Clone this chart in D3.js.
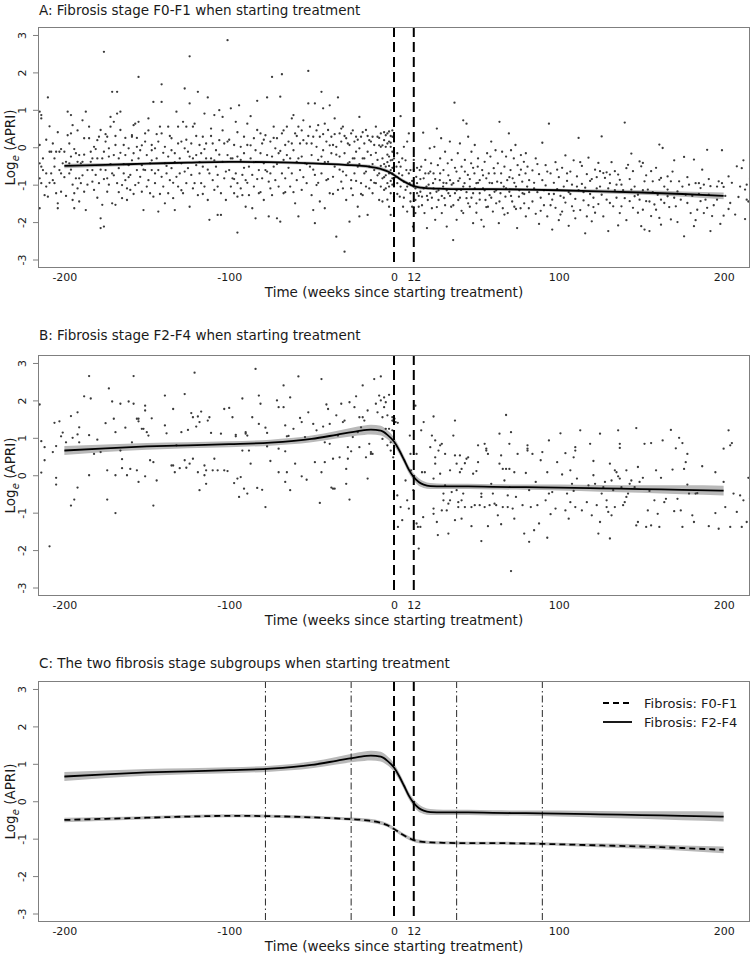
<!DOCTYPE html>
<html><head><meta charset="utf-8">
<script src="https://cdn.jsdelivr.net/npm/d3@7"></script>
<style>html,body{margin:0;padding:0;background:#fff;} svg{display:block;font-family:"DejaVu Sans",Verdana,sans-serif;}</style>
</head><body><div id="chart"></div>
<script>
// ---------------- DATA ----------------
const xTicks = [-200, -100, 0, 12, 100, 200];
const yTicks = [-3, -2, -1, 0, 1, 2, 3];
const markerWeeks = [0, 12];
const knotWeeks = [-78, -26, 38, 90];
const panelTitles = [
  "A: Fibrosis stage F0-F1 when starting treatment",
  "B: Fibrosis stage F2-F4 when starting treatment",
  "C: The two fibrosis stage subgroups when starting treatment"
];
const xLabel = "Time (weeks since starting treatment)";
const legendLabels = ["Fibrosis: F0-F1", "Fibrosis: F2-F4"];

// fitted curve F0-F1
const fitWeeksF01 = [-200,-175,-150,-125,-100,-75,-50,-30,-15,-8,-3,0,4,8,12,16,22,30,45,60,80,100,125,150,175,200];
const fitF01  = [-0.50,-0.47,-0.44,-0.41,-0.39,-0.40,-0.43,-0.47,-0.52,-0.58,-0.66,-0.74,-0.86,-0.96,-1.04,-1.08,-1.10,-1.11,-1.12,-1.12,-1.13,-1.15,-1.18,-1.21,-1.25,-1.30];
const lowF01  = [-0.56,-0.52,-0.48,-0.45,-0.43,-0.44,-0.47,-0.51,-0.57,-0.63,-0.71,-0.79,-0.91,-1.01,-1.09,-1.13,-1.14,-1.15,-1.16,-1.16,-1.17,-1.19,-1.23,-1.27,-1.32,-1.39];
const highF01 = [-0.44,-0.42,-0.40,-0.37,-0.35,-0.36,-0.39,-0.43,-0.47,-0.53,-0.61,-0.69,-0.81,-0.91,-0.99,-1.03,-1.06,-1.07,-1.08,-1.08,-1.09,-1.11,-1.13,-1.15,-1.18,-1.21];

// fitted curve F2-F4
const fitWeeksF24 = [-200,-175,-150,-125,-100,-75,-50,-35,-22,-14,-8,-4,0,3,6,9,12,15,18,22,30,45,60,80,100,125,150,175,200];
const fitF24  = [0.66,0.72,0.77,0.80,0.83,0.87,0.97,1.08,1.18,1.22,1.19,1.08,0.90,0.68,0.42,0.15,-0.05,-0.18,-0.25,-0.29,-0.30,-0.30,-0.31,-0.32,-0.33,-0.35,-0.37,-0.39,-0.41];
const lowF24  = [0.54,0.62,0.68,0.72,0.75,0.79,0.88,0.98,1.06,1.09,1.06,0.96,0.79,0.58,0.32,0.05,-0.15,-0.28,-0.34,-0.37,-0.37,-0.37,-0.38,-0.39,-0.41,-0.44,-0.47,-0.51,-0.54];
const highF24 = [0.78,0.82,0.86,0.88,0.91,0.95,1.06,1.18,1.30,1.35,1.32,1.20,1.01,0.78,0.52,0.25,0.05,-0.08,-0.16,-0.21,-0.23,-0.23,-0.24,-0.25,-0.25,-0.26,-0.27,-0.27,-0.28];

// observations, [week, log APRI]
const pointsF01 = [
[-215,0.95],[-214,0.86],[-214,0.77],[-215,0.06],[-215,-0.43],[-214,-0.52],[-215,-0.83],[-215,-1.63],[-214,-0.96],[-213,-0.61],[-212,-1.28],[-211,-1.05],[-211,-0.70],[-210,1.33],[-210,-1.32],[-209,-0.12],[-209,0.56],[-208,-0.12],[-208,-0.70],[-207,-0.88],[-207,0.10],[-206,-0.96],[-206,-0.52],[-205,-0.12],[-205,-1.23],[-204,-1.50],[-204,-1.63],[-203,-0.61],[-203,-0.12],[-202,-1.19],[-202,-0.70],[-201,-0.43],
[-200,-0.12],[-199,-0.39],[-198,0.95],[-198,0.32],[-197,-0.70],[-197,-0.43],[-196,0.37],[-196,0.86],[-195,0.59],[-196,-0.25],[-195,-1.00],[-195,-1.41],[-194,-1.63],[-194,-1.23],[-193,-0.16],[-193,-0.83],[-192,-0.39],[-192,-1.10],[-191,-0.83],[-191,-0.21],[-190,-0.96],[-190,-0.43],[-189,0.72],[-189,-0.39],[-188,0.24],[-188,-1.19],[-187,0.95],[-187,-1.68],[-186,-0.61],[-185,0.24],
[-184,-0.12],[-184,-0.39],[-183,-0.92],[-183,-0.61],[-182,0.01],[-182,-1.14],[-181,-0.74],[-180,0.19],[-180,-0.30],[-179,-0.96],[-179,0.28],[-178,0.46],[-178,-1.90],[-178,-2.16],[-177,-1.54],[-177,-0.30],[-176,-2.12],[-176,-0.12],[-176,2.55],[-175,0.15],[-175,-0.61],[-174,0.28],[-174,-1.19],[-174,-0.83],[-173,-0.25],[-173,-0.03],[-172,0.81],[-172,0.55],[-171,-0.70],[-171,1.48],[-171,-1.50],[-170,-0.21],
[-170,0.68],[-169,0.06],[-169,-1.54],[-168,0.90],[-168,1.48],[-168,-0.96],[-167,-0.30],[-167,-0.56],[-166,0.46],[-166,0.95],[-165,-1.01],[-165,-1.36],[-164,-0.70],[-164,0.06],[-163,-0.21],[-163,-0.88],[-162,-1.10],[-162,-1.41],[-161,-0.48],[-161,-0.03],[-160,-0.74],[-160,-1.14],[-159,0.28],[-159,0.32],[-158,0.59],[-158,-0.16],[-157,0.63],[-157,-1.01],[-156,-0.61],[-156,0.01],[-155,1.88],[-155,0.68],
[-155,-0.30],[-154,-0.79],[-154,-0.08],[-153,-1.19],[-153,-0.48],[-152,-1.68],[-151,0.15],[-151,-0.61],[-151,0.37],[-150,-0.21],[-149,0.77],[-149,-0.88],[-148,-0.43],[-148,-1.23],[-147,0.06],[-147,-0.61],[-147,-0.08],[-146,-1.32],[-146,1.21],[-145,-0.96],[-145,-0.03],[-144,-0.30],[-143,0.15],[-143,-0.61],[-143,-1.72],[-142,0.55],[-141,-0.79],[-141,1.68],[-141,1.21],[-141,0.37],[-140,-1.05],
[-139,-0.43],[-139,0.01],[-139,-1.50],[-138,-0.70],[-137,-0.25],[-137,-1.23],[-137,0.55],[-136,-0.88],[-135,-0.08],[-135,-0.56],[-135,0.24],[-134,-1.36],[-133,-1.68],[-133,-0.16],[-132,-0.79],[-132,0.95],[-131,0.55],[-131,-1.05],[-130,-0.30],[-130,-0.70],[-129,0.15],[-129,-0.43],[-128,0.68],[-128,-1.23],[-127,1.57],[-127,-0.03],[-126,-0.96],[-126,0.55],[-125,-0.56],[-125,-0.12],
[-124,2.43],[-124,1.17],[-124,-1.59],[-123,-0.74],[-123,0.10],[-122,-0.30],[-122,0.55],[-121,-0.96],[-121,0.63],[-120,-0.48],[-120,-0.21],[-119,1.48],[-119,-1.28],[-118,-0.70],[-118,0.06],[-117,-0.96],[-117,-0.16],[-116,0.28],[-116,-0.52],[-115,0.90],[-115,-1.05],[-114,-0.30],[-114,0.10],[-113,1.33],[-113,-1.41],[-112,-1.94],[-112,-0.70],[-111,0.50],[-111,-0.30],[-110,-0.88],[-110,0.10],
[-109,-1.14],[-109,0.86],[-108,-0.52],[-108,-0.08],[-107,-1.81],[-107,-0.74],[-106,0.19],[-106,0.99],[-105,-1.23],[-105,-1.81],[-104,-0.39],[-104,0.81],[-103,0.10],[-103,-0.83],[-102,-1.41],[-101,-0.21],[-101,0.15],[-101,2.86],[-100,-0.61],[-99,-1.05],[-99,1.04],[-98,-0.30],[-98,-0.83],[-97,-1.23],[-97,0.06],[-96,-0.70],[-96,0.68],[-95,-0.25],[-95,-0.96],[-95,-2.28],[-95,-1.32],
[-94,1.12],[-93,0.01],[-93,-0.34],[-92,-0.74],[-92,-1.28],[-91,0.28],[-91,-0.16],[-90,-0.88],[-90,-1.59],[-89,0.63],[-89,0.06],[-88,-0.52],[-88,-1.28],[-87,0.83],[-87,-0.30],[-86,-0.74],[-86,-1.63],[-85,0.24],[-85,-1.05],[-84,-0.08],[-84,-1.90],[-83,0.46],[-83,1.24],[-82,-0.61],[-82,-1.23],[-81,-0.16],[-81,0.37],[-80,-0.83],[-80,0.10],[-79,-0.43],
[-79,-1.41],[-78,0.32],[-78,-0.61],[-77,-0.21],[-77,1.33],[-76,-1.85],[-76,-0.92],[-75,0.15],[-75,-0.70],[-74,1.88],[-74,-0.25],[-74,-1.28],[-73,0.55],[-73,-0.52],[-72,-0.03],[-72,-0.88],[-71,-1.90],[-71,0.24],[-70,-1.05],[-70,-0.16],[-69,1.35],[-69,-1.99],[-68,-0.70],[-68,1.95],[-68,0.37],[-67,-0.34],[-67,-1.23],[-66,0.06],[-66,-0.83],[-65,0.55],[-65,-0.21],
[-64,0.15],[-63,-0.30],[-63,-1.05],[-62,0.77],[-62,-0.70],[-61,0.86],[-61,-0.08],[-60,-1.50],[-60,0.37],[-59,-0.39],[-59,-0.88],[-58,0.55],[-58,-1.85],[-57,0.10],[-57,-0.61],[-56,-0.25],[-56,-1.14],[-55,0.19],[-55,0.72],[-54,-0.43],
[-53,0.10],[-53,-0.96],[-52,2.04],[-52,1.17],[-51,0.55],[-51,-0.52],[-50,-0.21],[-50,-1.28],[-49,0.28],[-49,-1.68],[-48,-2.03],[-48,1.17],[-48,-0.74],[-47,0.01],[-47,-1.01],[-46,0.59],[-46,-0.34],[-45,-1.45],[-45,0.28],[-44,1.48],[-44,-0.70],[-43,1.04],[-43,-0.08],[-42,-1.63],[-42,0.63],[-41,-0.88],[-41,0.15],[-40,-0.39],[-40,0.46],[-39,1.12],[-39,-1.23],
[-38,-0.16],[-38,0.28],[-37,-0.79],[-37,0.06],[-36,0.77],[-36,-0.52],[-35,-2.39],[-35,0.01],[-34,-1.14],[-34,1.33],[-33,-0.25],[-33,0.37],[-32,-0.92],[-32,0.15],[-31,-0.65],[-31,0.55],[-30,-2.79],[-30,-0.16],[-29,-1.41],[-29,0.24],[-28,-0.43],[-27,-1.99],[-27,0.06],[-26,-0.88],[-26,0.37],[-25,-0.30],[-25,-1.28],[-24,0.15],[-24,-0.70],[-23,-0.12],
[-23,0.28],[-22,-1.59],[-22,-0.52],[-21,0.81],[-21,-1.85],[-21,-0.03],[-20,-0.96],[-20,0.28],[-19,-0.30],[-19,-1.28],[-18,0.10],[-18,-0.70],[-17,0.46],[-17,-1.05],[-16,-0.12],[-16,-1.81],[-15,-0.52],[-15,0.19],[-14,-0.88],[-14,-0.21],[-13,0.28],[-13,-1.23],[-12,-0.61],[-12,0.06],[-11,0.55],[-11,-0.96],[-10,-0.34],[-10,0.28],[-9,-1.41],[-9,-0.70],[-8,0.01],
[-8,0.37],[-7,-0.83],[-7,-0.30],[-6,0.19],[-6,-1.14],[-5,0.32],[-5,-0.52],[-5,0.01],[-4,-0.96],[-4,0.37],[-3,-0.25],[-3,-1.59],[-3,0.15],[-2,-0.61],[-2,-1.23],[-2,0.01],[-2,-1.81],[-1,-0.34],[-1,0.28],[-1,-0.83],[-1,-0.12],[0,0.15],[0,-0.52],[0,-0.16],[0,-1.32],
[-4,-0.40],[-3,-0.70],[-2,0.30],[-1,-0.55],[-6,-0.45],[-7,0.05],[-9,0.25],[-3,0.42],[-1,-1.00],[-2,-0.90],[-5,-0.75],[-4,-1.40],
[1.5,-0.52],[2,-0.96],[2,-0.16],[3,-0.70],[3.5,-1.32],[4,0.83],[4,-0.52],[5,-0.30],[5.5,-1.59],[6,-0.92],[6,0.01],[7,-1.14],[7.5,-0.61],[8,-1.72],[8,0.15],[9,0.37],[9.5,-0.96],[10,-1.23],[10,-0.61],[11,-1.59],[11.5,-2.12],[12,-0.34],[12,-1.05],[13,-1.41],[13,-1.76],[13.5,-0.79],[14,-1.23],
[14,-0.96],[15,-1.59],[15.6,-0.61],[16,-1.19],[16.5,-0.52],[17,-1.32],[17.7,0.39],[18,-0.83],[18.5,-1.76],[19,-0.34],[19.7,-1.05],[20,-2.16],[20.5,-1.41],[21,-0.70],[21.7,-0.03],[22,-1.23],[22.5,-0.43],[23,-1.63],[23.7,-0.96],[24,-0.70],[24.5,0.01],[25,-1.94],[25.8,-1.19],[26,0.50],[26.6,-0.48],[27,-1.41],[27.8,-0.88],[28,-0.30],[28.6,0.24],[29,-1.76],[29.8,-1.05],[30,-0.61],[30.6,-1.36],[31,-0.12],[31.8,-0.96],[32,-2.12],
[32.6,-0.43],[33,-1.23],[33.9,0.15],[34,-0.88],[34.7,-1.59],[35,-0.34],[35.9,-2.48],[36,-0.96],[36.7,1.19],[37,-1.23],[37.9,-0.65],[38,-1.94],[38.7,-0.16],[39,-1.41],[39.9,-0.83],[40,0.10],[40.7,-1.14],[41,-0.52],[42,0.72],[42,-1.76],[42.8,-0.96],[43,-0.34],[44,-1.36],[44,0.63],[44.8,-0.74],[45,0.28],[46,-1.59],[46,-1.05],[46.8,-0.43],[47,-0.12],[48,-1.23],[48,-2.03],[48.8,-0.70],[49,0.06],[50,-0.96],[50,-1.50],[50.8,-0.52],[51,-0.30],[52,-1.23],[52,-0.88],
[53,-1.94],[53.5,-0.61],[54,-1.10],[54.5,-2.12],[55,-0.39],[55.5,-1.41],[56,-0.83],[56.5,-0.16],[57,-1.59],[57.5,-0.70],[58,-1.28],[58.5,-0.25],[59,0.15],[59.5,-0.96],[60,-1.72],[60.5,-0.56],[61,-1.19],[61.6,-0.08],[62,-1.50],[62.6,-0.92],[63,-0.43],[63.6,-2.03],[64,0.68],[64.6,-1.23],[65,-0.70],[65.6,-0.12],[66,-1.63],[66.6,-1.05],[67,-0.52],[67.6,-1.32],[68,-0.25],[68.7,-0.88],[69,-1.76],[69.7,0.37],[70,-1.19],[70.7,-0.61],[71,-0.08],[71.7,-1.45],[72,-0.83],[72.7,-0.30],[73,-1.59],[73.7,0.06],[74,-1.05],[74.7,-2.16],[75,-0.48],[75.8,-1.32],[76,-0.74],[76.8,-1.63],[77,-0.21],[77.8,-0.92],[78,-1.23],[78.8,-0.39],[79,-1.50],[79.8,-0.70],[80,-0.16],[80.8,-1.05],[81,-0.52],[81.8,-1.63],[82,-0.88],
[84,-0.62],[84,-1.45],[85,-0.95],[86,-1.78],[86,-0.30],[87,-1.20],[88,-0.72],[88,-2.05],[89,-1.35],[90,-0.88],[90,0.12],[91,-1.55],[92,-1.02],[92,-0.48],[93,-1.85],[94,-1.25],[94,0.63],[95,-0.70],[96,-1.40],[96,-2.20],[97,-0.95],[98,-0.40],[98,-1.62],[99,-1.12],[100,-0.80],[100,-1.95],[101,-1.30],[102,-0.55],[102,-1.72],[103,-1.05],[104,-0.22],[104,-1.48],[105,-0.90],[106,-2.10],[106,-1.20],[107,-0.65],[108,-1.58],[108,-1.00],[109,-0.35],[110,-1.38],[110,-1.90],[111,-0.78],[112,-1.15],[112,0.25],[113,-1.68],[114,-0.98],[114,-0.50],[115,-1.42],[116,-2.30],[116,-1.08],[117,-0.72],[118,-1.55],[118,-0.28],[119,-1.25],[120,-0.85],[120,-1.98],[121,-1.35],[122,-0.60],[122,-1.75],[123,-1.10],[124,-0.42],[124,-1.52],
[126,0.29],[140,0.66],[144,-0.17],[142,-0.47],[141,-0.56],[149,-0.38],[151,-0.42],[150,-0.51],[161,0.07],[163,-0.02],[170,-0.35],[176,-0.26],[182,-0.33],[190,-0.07],[199,-0.08],[208,-0.51],[211,-0.56],[125,-0.64],[127,-0.69],[129,-0.67],[131,-0.73],[134,-0.64],[136,-0.73],[137,-0.87],[128,-0.82],[131,-0.96],[135,-1.00],[138,-1.00],[145,-0.64],[156,-0.64],[152,-0.91],[157,-0.91],[161,-0.87],[162,-0.82],[166,-0.78],[168,-0.91],[173,-0.91],[179,-1.00],[183,-0.96],[185,-0.96],[188,-1.00],[192,-1.04],[197,-0.91],[199,-0.96],[200,-1.06],[203,-0.78],[214,-1.00],[213,-1.13],[209,-1.33],[214,-1.40],[204,-1.49],[213,-1.92],[200,-1.83],[126,-1.27],[129,-1.40],[131,-1.49],[133,-1.58],[137,-1.76],[138,-1.58],[140,-1.36],[143,-1.44],[145,-1.62],[146,-1.31],[149,-1.40],[151,-1.67],[153,-1.44],[156,-1.84],[158,-1.53],[159,-1.67],[161,-1.89],[162,-2.07],[164,-1.49],[166,-1.31],[168,-1.93],[171,-1.58],[174,-1.40],[176,-2.38],[178,-1.49],[180,-1.76],[182,-2.11],[184,-1.67],[186,-1.44],[188,-1.76],[190,-1.62],[192,-2.24],[193,-1.84],[150,-2.11],[152,-2.20],[155,-2.24],[136,-2.09],[130,-2.24],[172,-1.18],[166,-1.13],[154,-1.13],[144,-1.13],[134,-1.15],[191,-1.27],[196,-1.40],[186,-1.09],[177,-1.27],[160,-1.27],[148,-1.27],
[-213,-0.30],[-211,0.20],[-209,-0.95],[-206,-0.30],[-204,0.40],[-202,-0.05],[-200,-0.80],[-199,-1.30],[-197,0.10],[-196,-0.60],[-194,-0.05],[-192,0.45],[-191,-1.45],[-189,-0.75],[-188,-0.20],[-186,-1.00],[-185,0.55],[-183,-0.30],[-181,-0.05],[-180,-1.35],[-178,-0.60],[-176,-0.85],[-175,0.35],[-173,-1.00],[-172,-0.45],[-170,-0.75],[-169,0.30],[-167,-1.20],[-166,-0.15],[-164,-0.45],[-163,0.25],[-161,-0.80],[-159,-0.35],[-158,-1.25],[-156,0.25],[-155,-0.95],[-153,0.05],[-152,-0.60],[-150,-1.05],[-149,0.45],[-147,-0.35],[-145,-0.70],[-144,0.35],[-142,-1.25],[-140,-0.15],[-138,-0.50],[-136,0.30],[-134,-0.95],[-133,-0.40],[-131,0.10],[-129,-1.15],[-127,-0.65],[-126,0.20],[-124,-0.25],[-122,-1.10],[-120,0.30],[-118,-0.40],[-116,-1.25],[-115,-0.05],[-113,-0.60],[-111,0.30],[-109,-0.35],[-107,-1.05],[-106,-0.20],[-104,0.45],[-102,-0.65],[-100,0.20],[-99,-0.30],[-97,-0.85],[-95,0.40],[-93,-1.10],[-91,-0.55],[-89,-0.95],[-87,0.05],[-85,-0.40],[-83,-0.85],[-81,-1.20],[-79,0.20],[-77,-0.65],[-75,-1.10],[-73,0.25],[-71,-0.45],
[-69,-0.10],[-67,0.45],[-66,-1.20],[-64,-0.55],[-62,0.10],[-61,-1.20],[-59,0.30],[-58,-0.30],[-56,0.45],[-55,-0.80],[-53,-0.45],[-52,0.30],[-50,0.10],[-49,-0.60],[-47,0.45],[-46,-0.95],[-44,-0.25],[-43,0.35],[-42,-0.40],[-40,-0.85],[-39,0.05],[-37,-1.25],[-36,0.35],[-35,-0.20],[-33,-0.60],[-32,0.50],[-31,-1.10],[-30,0.30],[-29,-0.75],[-28,0.10],[-27,-0.40],[-26,-1.10],[-25,0.45],[-24,-0.30],[-23,-0.90],[-22,0.20],[-21,-0.45],[-20,-1.25],[-19,0.40],[-18,-0.30],[-17,-0.65],[-16,0.30],[-15,-1.10],[-14,0.15],[-13,-0.45],[-12,-0.95],[-11,-0.15],[-10,-0.75],[-9,0.05],[-8,-1.05],[-8,-0.50],[-7,-1.45],[-6,0.40],[-6,-0.80],[-5,-1.10],[-4,0.10],[-4,-0.20],[-3,-0.50],[-3,-1.05],[-2,-0.35],[-2,0.12],[-1,-0.70],[-1,0.45],[0,-0.85],[0,-0.30],[0,-1.05],
[1,-0.80],[2,-1.25],[3,-0.40],[4,-1.05],[5,-0.75],[6,-1.35],[7,-0.35],[8,-1.05],[9,-0.70],[10,-1.45],[11,-0.90],[12,-1.60],[12,-0.60],[13,-1.10],[14,-0.55],[15,-1.30],[16,-0.85],[17,-1.55],[18,-1.10],[19,-0.70],[20,-1.30],[21,-1.00],[22,-0.65],[23,-1.35],[24,-1.10],[25,-0.85],[26,-1.60],[27,-1.15],[28,-0.70],[29,-1.30],[30,-0.95],[31,-1.55],[32,-1.15],[33,-0.75],[34,-1.30],[35,-1.00],[36,-1.55],[37,-0.55],[38,-1.15],[39,-0.90],[40,-1.35],[41,-1.70],[42,-1.05],[43,-0.65],[44,-1.20],[45,-1.50],[46,-0.85],[47,-1.35],[48,-0.55],[49,-1.10],[50,-1.75],[51,-0.95],[52,-1.40],[54,-0.75],[55,-1.15],[56,-1.60],[58,-0.95],[59,-1.35],[61,-0.70],[62,-1.15],[64,-1.45],[65,-0.95],[67,-1.80],[68,-1.10],[70,-0.80],[71,-1.30],[73,-0.95],[74,-1.65],[76,-1.15],[77,-0.60],[79,-1.25],[80,-1.85],[82,-1.20],[85,-1.10],[87,-0.45],[89,-1.70],[91,-1.15],[93,-0.65],[95,-1.55],[97,-1.25],[99,-0.60],[101,-1.80],[103,-1.35],[105,-0.70],[107,-1.25],[109,-1.70],[111,-1.05],[113,-0.40],[115,-1.20],[117,-1.85],[119,-0.90],[121,-1.60],[123,-0.80],
[125,-1.05],[127,-1.85],[130,-1.10],[132,-0.40],[135,-1.35],[139,-1.15],[141,-1.95],[143,-0.85],[146,-1.05],[148,-1.75],[151,-1.15],[153,-0.75],[155,-1.45],[157,-1.20],[159,-0.55],[162,-1.40],[164,-1.05],[167,-1.60],[169,-0.65],[170,-1.35],[172,-2.00],[175,-1.05],[178,-0.80],[181,-1.30],[183,-1.95],[185,-1.25],[187,-0.60],[189,-1.40],[191,-0.85],[194,-1.55],[196,-1.05],[198,-2.05],[201,-1.30],[203,-1.65],[205,-0.95],[207,-1.80],[210,-1.05],[212,-0.35],[215,-1.45],[216,-0.85]
];

const pointsF24 = [
[-215,1.89],[-214,0.91],[-214,0.07],[-212,0.75],[-212,0.40],[-209,-1.90],[-207,0.62],[-206,1.40],[-205,-0.07],[-205,-0.25],[-205,0.78],[-203,1.44],[-202,1.04],[-201,1.14],[-199,0.88],[-196,1.58],[-195,1.00],[-196,-0.81],[-194,-0.65],[-192,1.68],[-192,1.09],[-191,1.28],[-192,-0.33],[-191,0.88],[-188,2.11],[-185,1.07],[-185,2.65],[-184,2.05],[-185,0.00],[-182,0.57],[-180,0.95],[-178,0.62],[-175,1.39],[-174,0.13],[-174,-0.65],[-173,2.32],[-171,1.97],[-170,1.51],[-169,1.15],[-169,-1.01],[-169,0.00],[-166,1.91],[-166,0.66],[-165,0.43],[-165,0.19],[-163,1.27],[-162,0.00],[-161,1.97],[-160,0.17],[-159,0.88],[-158,2.65],[-158,1.91],[-156,1.51],[-156,0.13],[-155,1.51],[-155,-0.18],[-155,1.44],[-153,1.24],[-152,1.24],[-151,1.86],[-151,1.73],[-151,-0.03],[-150,1.15],[-149,1.06],[-148,0.40],[-146,-0.81],[-147,1.52],[-146,0.35],[-144,-0.14],[-139,2.13],[-139,1.33],[-138,1.12],[-135,0.26],[-134,0.26],[-134,1.77],[-133,0.08],[-132,0.80],[-130,0.19],[-129,1.15],[-127,2.17],[-127,0.40],[-126,0.20],[-125,1.21],[-124,0.31],[-123,1.66],[-122,1.55],[-122,0.44],[-121,2.74],[-120,1.30],[-119,0.08],[-119,1.57],[-118,1.42],[-118,-0.40],[-117,1.70],[-115,0.26],[-115,0.00],[-114,0.13],[-114,-0.23],[-113,1.46],[-112,1.55],[-111,1.13],[-110,0.13],[-109,0.44],[-107,0.13],[-105,1.11],[-103,1.77],[-103,0.13],[-101,0.11],[-100,1.80],[-98,1.55],[-96,1.08],[-96,1.04],[-97,-0.21],[-95,-0.09],[-94,-0.58],[-93,-0.05],[-92,0.66],[-92,2.05],[-91,-0.36],[-90,1.11],[-90,1.15],[-89,-0.49],[-89,1.06],[-88,0.66],[-87,0.31],[-86,1.55],[-84,2.84],[-83,-0.34],[-82,1.37],[-82,2.13],[-81,1.91],[-80,-0.39],[-78,1.27],[-78,-0.85],[-77,1.13],[-77,0.77],[-75,0.38],[-71,2.00],[-70,1.82],[-70,0.71],[-70,0.08],[-67,2.40],[-67,1.82],[-66,1.33],[-66,0.64],[-66,-0.18],[-65,0.08],[-65,1.04],[-64,1.05],[-63,2.08],[-63,-0.40],[-61,1.24],[-60,0.31],[-58,2.64],[-57,1.53],[-56,1.42],[-56,-0.03],[-54,1.02],[-53,-0.12],[-52,1.68],[-49,1.37],[-48,0.35],[-47,1.20],[-45,-0.74],[-44,2.57],[-44,0.08],[-43,1.30],[-42,0.35],[-42,0.88],[-41,1.89],[-40,1.77],[-39,0.84],[-39,1.37],[-38,-0.33],[-37,0.44],[-37,-0.36],[-36,-0.36],[-35,1.60],[-34,1.06],[-33,0.48],[-32,1.91],[-31,1.42],[-30,1.46],[-29,0.17],[-29,-0.23],[-28,0.44],[-28,0.75],[-27,-0.65],[-27,1.95],[-26,0.64],[-25,1.02],[-24,1.82],[-23,2.11],[-22,1.15],[-21,1.55],[-21,0.75],[-20,1.28],[-19,2.40],[-19,1.55],[-18,1.46],[-17,0.48],[-16,-0.09],[-16,1.73],[-15,0.84],[-14,0.62],[-14,0.57],[-13,0.57],[-12,2.57],[-11,1.91],[-10,1.68],[-9,2.13],[-8,2.64],[-8,2.00],[-7,1.55],[-7,0.97],[-6,1.82],[-6,2.08],[-5,1.95],[-5,1.24],[-4,0.80],[-4,1.60],[-3,1.24],[-3,2.15],[-2,0.66],[-2,0.88],[-1,1.46],[0,1.02],[0,0.75],
[-1,1.55],[-0.5,1.46],[0.3,1.51],[1,1.42],[2.3,1.40],[-1,1.20],[-0.5,0.48],[2,-0.54],[2.4,-1.38],[4,-0.85],[5,-1.20],[7,-0.14],[8,-0.67],[9,-0.89],[9.6,1.06],[10,0.57],[10.4,0.13],[11.7,-0.40],[13,1.86],[13.7,0.57],[13.7,-1.29],[14.5,-1.38],[15,-1.96],[16,-1.38],[16.5,1.20],[17,0.08],[17.7,-1.12],[18,1.42],[18.7,0.08],[22,0.75],[23,1.06],[24,-0.09],[24,1.57],[24,-0.89],[24,-1.03],[25,0.48],[25,0.93],[25,0.31],[26,-1.25],[26.6,-1.60],[27,0.66],[28,0.04],[28,0.80],[29,-0.94],[29,0.84],[30,-0.49],[30,-0.67],[31,0.57],[31,-0.27],[32,-0.94],[33,-1.56],[33,-0.76],[34,0.13],[34,-0.67],[35,-0.45],[36,1.06],[37,-1.20],[37,1.46],[37,0.53],[38,-0.40],[38,0.31],[39,-0.72],[39,-0.85],[40,0.53],[40,0.08],[41,0.17],[41,-1.16],[41,-0.67],[42,-0.49],[43,-0.85],[43,0.32],[44,0.44],[45,0.48],[47,-0.85],[47,-1.36],[48,0.04],[49,-0.80],[50,0.11],[51,0.35],[51,0.80],[52,-0.80],[53,-1.76],[53,-0.49],[53,-0.58],[55,0.84],[55,-0.85],[56,0.66],[56,0.71],[57,0.57],[57,-1.36],[58,-0.80],[59,-0.23],[60,-0.49],[61,-0.76],[62,-0.80],[63,-1.07],[64,1.11],[64,0.31],[65,-1.31],[65,0.53],[66,-0.85],[66,0.17],[67,-0.14],[68,1.61],[68,0.17],[69,-0.54],[69,-0.85],[70,0.17],[70,0.84],[71,1.15],[71,-2.56],[72,-0.89],[73,0.08],[73,-1.16],[74,-0.58],[75,0.57],[78,-0.80],[79,-1.56],[80,0.06],[81,0.71],[81,0.66],[81,0.80],[82,-1.78],[82,-0.40],[83,-0.85],[84,0.57],[85,-1.47],[86,-0.18],[87,-0.80],[88,-1.29],[89,0.40],[90,0.62],[92,-0.67],[93,-1.67],[93,0.08],[94,0.93],[94,-0.49],[95,-1.04],[96,-0.45],[98,-0.89],[99,0.35],[101,1.12],[102,0.02],[104,0.59],[104,-0.94],[105,-0.49],[106,-1.16],[107,-0.72],[107,0.13],[108,-0.23],[109,0.48],[109,-0.42],[110,0.66],[110,0.75],[110,-0.85],[111,-0.09],[113,1.20],[114,-0.94],[117,-0.72],[118,-0.27],[119,0.84],[120,-1.07],[121,0.38],[121,0.00],[122,-0.23],[123,-0.80],[124,-1.56],[125,-1.25],[125,1.11],[126,-0.49],[127,-0.32],[128,-0.18],[129,-0.67],[129,-0.85],[130,-0.98],[131,-1.69],[131,0.31],[132,-0.14],[132,-1.07],[133,-0.40],[134,-0.85],[134,0.13],[135,0.08],[136,-0.03],[136,1.20],[137,0.84],[137,0.73],[137,-0.09],[138,-0.32],[139,-0.80],[140,-0.72],[141,0.13],[141,-0.58],[142,-0.49],[143,-0.23],[144,-0.14],[146,-0.32],[147,1.26],[147,-1.34],[148,-1.25],[148,0.22],[149,-0.18],[151,-0.07],[152,0.84],[153,-1.38],[154,-0.94],[155,-0.42],[156,-1.34],[156,0.86],[158,-0.67],[159,0.13],[160,-1.03],[161,-1.38],[162,-0.07],[163,0.93],[164,-0.72],[165,-0.63],[168,1.21],[169,0.15],[170,-0.96],[171,0.72],[172,-0.63],[173,1.00],[174,-0.94],[175,0.86],[175,-1.38],[176,0.17],[177,0.35],[178,0.57],[178,-0.25],[179,-0.49],[181,-1.07],[182,-1.25],[183,-0.49],[184,-0.48],[187,0.24],[191,-1.36],[195,0.08],[195,-1.01],[197,-1.43],[200,-0.18],[200,0.71],[201,-0.85],[203,1.20],[204,0.80],[204,-1.38],[205,0.86],[206,-0.49],[208,-0.98],[210,-0.54],[211,-1.38],[212,-0.67],[214,-1.25],[215,-0.07],[216,-0.63]
];

// ---------------- DRAWING ----------------
const W = 752, H = 956;
const svg = d3.select("#chart").append("svg").attr("width", W).attr("height", H);
const x = d3.scaleLinear().domain([-216, 216]).range([38, 750]);
const textCol = "#1a1a1a", axisCol = "#7f7f7f";
const fontFam = '"DejaVu Sans",Verdana,sans-serif';
const plainFmt = d => String(d);   // ASCII hyphen for negatives, as in the reference

function fitRows(weeks, fit, lo, hi) {
  return weeks.map((w, i) => ({w, f: fit[i], lo: lo[i], hi: hi[i]}));
}
const curveF01 = fitRows(fitWeeksF01, fitF01, lowF01, highF01);
const curveF24 = fitRows(fitWeeksF24, fitF24, lowF24, highF24);

const panels = [
  {top: 27, bottom: 268, titleY: 15, title: panelTitles[0], points: pointsF01, curves: [{c: curveF01, dash: null}], knots: false, legend: false},
  {top: 355, bottom: 596, titleY: 340, title: panelTitles[1], points: pointsF24, curves: [{c: curveF24, dash: null}], knots: false, legend: false},
  {top: 681, bottom: 922, titleY: 668, title: panelTitles[2], points: [], curves: [{c: curveF01, dash: "6,4"}, {c: curveF24, dash: null}], knots: true, legend: true}
];

panels.forEach((p, idx) => {
  const y = d3.scaleLinear().domain([-3.227, 3.213]).range([p.bottom, p.top]);
  const g = svg.append("g");
  const clipId = "clip" + idx;
  svg.append("clipPath").attr("id", clipId).append("rect")
    .attr("x", x.range()[0]).attr("y", p.top).attr("width", x.range()[1] - x.range()[0]).attr("height", p.bottom - p.top);
  const plot = g.append("g").attr("clip-path", `url(#${clipId})`);

  // ribbons
  const area = d3.area().x(d => x(d.w)).y0(d => y(d.lo)).y1(d => y(d.hi)).curve(d3.curveMonotoneX);
  p.curves.forEach(cv => {
    plot.append("path").datum(cv.c).attr("d", area).attr("fill", "#b9b9b9").attr("stroke", "none");
  });

  // points
  plot.append("g").selectAll("circle").data(p.points).join("circle")
    .attr("cx", d => x(d[0])).attr("cy", d => y(d[1])).attr("r", 1.15).attr("fill", "#3a3a3a");

  // knots (dot-dash)
  if (p.knots) {
    plot.append("g").selectAll("line").data(knotWeeks).join("line")
      .attr("x1", d => x(d)).attr("x2", d => x(d)).attr("y1", p.top).attr("y2", p.bottom)
      .attr("stroke", "#111").attr("stroke-width", 0.9).attr("stroke-dasharray", "7,3,1.5,3");
  }

  // fitted lines
  const line = d3.line().x(d => x(d.w)).y(d => y(d.f)).curve(d3.curveMonotoneX);
  p.curves.forEach(cv => {
    plot.append("path").datum(cv.c).attr("d", line).attr("fill", "none").attr("stroke", "#000")
      .attr("stroke-width", 1.8).attr("stroke-dasharray", cv.dash);
  });

  // treatment markers
  plot.append("g").selectAll("line").data(markerWeeks).join("line")
    .attr("x1", d => x(d)).attr("x2", d => x(d)).attr("y1", p.top).attr("y2", p.bottom)
    .attr("stroke", "#000").attr("stroke-width", 2).attr("stroke-dasharray", "10,5");

  // frame
  g.append("rect").attr("x", x.range()[0] + 0.5).attr("y", p.top + 0.5)
    .attr("width", x.range()[1] - x.range()[0] - 1).attr("height", p.bottom - p.top - 1)
    .attr("fill", "none").attr("stroke", axisCol).attr("stroke-width", 1);

  // y axis
  const ya = g.append("g").attr("transform", `translate(${x.range()[0]},0)`)
    .call(d3.axisLeft(y).tickValues(yTicks).tickSize(5).tickFormat(plainFmt));
  ya.select(".domain").remove();
  ya.selectAll(".tick line").attr("stroke", axisCol);
  ya.selectAll(".tick text").attr("transform", "rotate(-90)").attr("x", 0).attr("y", -12.5).attr("dy", 0)
    .attr("text-anchor", "middle").attr("fill", textCol).style("font-size", "11px").style("font-family", fontFam);

  // x axis
  const xa = g.append("g").attr("transform", `translate(0,${p.bottom})`)
    .call(d3.axisBottom(x).tickValues(xTicks).tickSize(0).tickFormat(plainFmt));
  xa.select(".domain").remove();
  xa.selectAll(".tick text").attr("y", 12.5).attr("dy", 0).attr("fill", textCol)
    .style("font-size", "11px").style("font-family", fontFam);

  // labels
  g.append("text").attr("x", 39).attr("y", p.titleY).attr("fill", textCol).style("font-size", "13.5px").text(p.title);
  g.append("text").attr("x", 394).attr("y", p.bottom + 29).attr("text-anchor", "middle")
    .attr("fill", textCol).style("font-size", "13.5px").text(xLabel);
  const yl = g.append("text").attr("transform", `translate(15,${(p.top + p.bottom) / 2}) rotate(-90)`)
    .attr("text-anchor", "middle").attr("fill", textCol).style("font-size", "13.5px");
  yl.append("tspan").text("Log");
  yl.append("tspan").text("e").attr("font-style", "italic").style("font-size", "10px").attr("dy", 4);
  yl.append("tspan").text(" (APRI)").attr("dy", -4);

  // legend
  if (p.legend) {
    const lg = g.append("g");
    const rows = [{lab: legendLabels[0], dash: "6,4", yy: 703}, {lab: legendLabels[1], dash: null, yy: 722}];
    rows.forEach(r => {
      lg.append("line").attr("x1", 603).attr("x2", 632).attr("y1", r.yy).attr("y2", r.yy)
        .attr("stroke", "#000").attr("stroke-width", 1.8).attr("stroke-dasharray", r.dash);
      lg.append("text").attr("x", 644).attr("y", r.yy + 5).attr("fill", textCol).style("font-size", "13px").text(r.lab);
    });
  }
});
</script>
</body></html>
